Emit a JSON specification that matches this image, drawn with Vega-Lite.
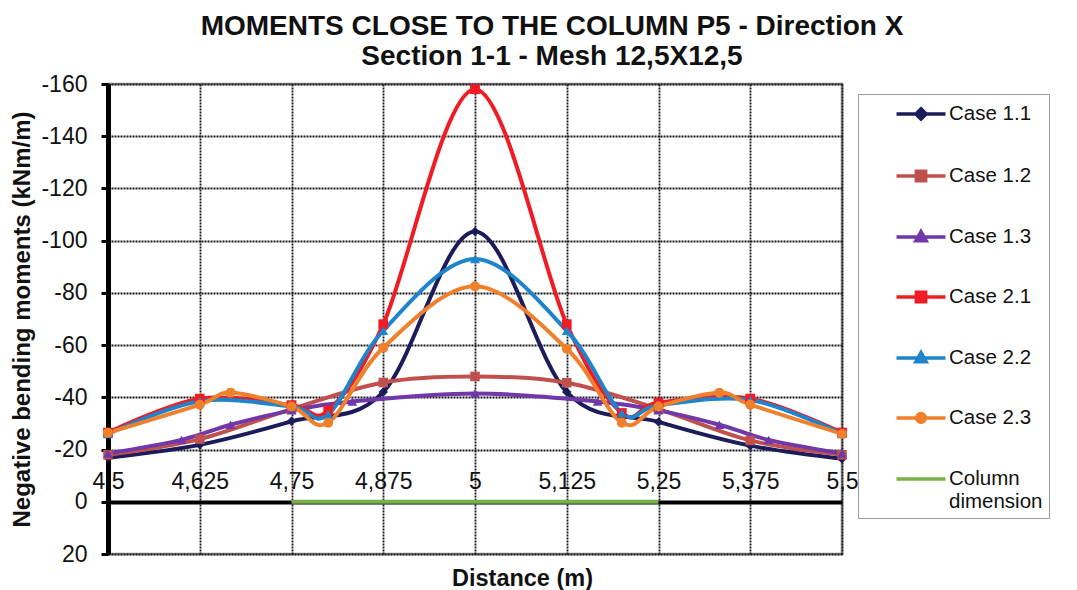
{
  "$schema": "https://vega.github.io/schema/vega-lite/v6.json",
  "width": 734,
  "height": 470,
  "autosize": "none",
  "padding": {"left": 108, "top": 84, "right": 235, "bottom": 36},
  "background": "white",
  "title": {
    "text": ["MOMENTS CLOSE TO THE COLUMN P5 - Direction X", "Section 1-1 - Mesh 12,5X12,5"],
    "font": "Liberation Sans",
    "fontSize": 28,
    "fontWeight": "bold",
    "color": "#111",
    "lineHeight": 30,
    "anchor": "middle",
    "dx": 77,
    "offset": 2
  },
  "config": {
    "font": "Liberation Sans",
    "view": {"stroke": "#8a8a8a", "strokeWidth": 2.5},
    "axis": {
      "labelFont": "Liberation Sans",
      "titleFont": "Liberation Sans",
      "labelColor": "#111",
      "titleColor": "#111",
      "gridColor": "#1a1a1a",
      "gridDash": [2, 1],
      "gridWidth": 1.8,
      "gridOpacity": 1
    }
  },
  "data": {
    "values": [
      {"series": "Case 1.1", "x": 4.5, "y": -16.9},
      {"series": "Case 1.1", "x": 4.625, "y": -21.8},
      {"series": "Case 1.1", "x": 4.75, "y": -30.8},
      {"series": "Case 1.1", "x": 4.875, "y": -42},
      {"series": "Case 1.1", "x": 5, "y": -103.5},
      {"series": "Case 1.1", "x": 5.125, "y": -42},
      {"series": "Case 1.1", "x": 5.25, "y": -30.6},
      {"series": "Case 1.1", "x": 5.375, "y": -21.5},
      {"series": "Case 1.1", "x": 5.5, "y": -16.5},

      {"series": "Case 1.2", "x": 4.5, "y": -18},
      {"series": "Case 1.2", "x": 4.625, "y": -24},
      {"series": "Case 1.2", "x": 4.75, "y": -35.5},
      {"series": "Case 1.2", "x": 4.875, "y": -45.7},
      {"series": "Case 1.2", "x": 5, "y": -48},
      {"series": "Case 1.2", "x": 5.125, "y": -45.6},
      {"series": "Case 1.2", "x": 5.25, "y": -35.5},
      {"series": "Case 1.2", "x": 5.375, "y": -23.5},
      {"series": "Case 1.2", "x": 5.5, "y": -18},

      {"series": "Case 1.3", "x": 4.5, "y": -18.5},
      {"series": "Case 1.3", "x": 4.6, "y": -23.7},
      {"series": "Case 1.3", "x": 4.667, "y": -29.5},
      {"series": "Case 1.3", "x": 4.75, "y": -35},
      {"series": "Case 1.3", "x": 4.833, "y": -38.4},
      {"series": "Case 1.3", "x": 5, "y": -41.5},
      {"series": "Case 1.3", "x": 5.167, "y": -38.4},
      {"series": "Case 1.3", "x": 5.25, "y": -35},
      {"series": "Case 1.3", "x": 5.333, "y": -29.5},
      {"series": "Case 1.3", "x": 5.4, "y": -23.7},
      {"series": "Case 1.3", "x": 5.5, "y": -18.5},

      {"series": "Case 2.1", "x": 4.5, "y": -26.5},
      {"series": "Case 2.1", "x": 4.625, "y": -39.5},
      {"series": "Case 2.1", "x": 4.75, "y": -37},
      {"series": "Case 2.1", "x": 4.8, "y": -35},
      {"series": "Case 2.1", "x": 4.875, "y": -68},
      {"series": "Case 2.1", "x": 5, "y": -158},
      {"series": "Case 2.1", "x": 5.125, "y": -68},
      {"series": "Case 2.1", "x": 5.2, "y": -34},
      {"series": "Case 2.1", "x": 5.25, "y": -38},
      {"series": "Case 2.1", "x": 5.375, "y": -39.5},
      {"series": "Case 2.1", "x": 5.5, "y": -26.5},

      {"series": "Case 2.2", "x": 4.5, "y": -26},
      {"series": "Case 2.2", "x": 4.625, "y": -38.5},
      {"series": "Case 2.2", "x": 4.75, "y": -36.5},
      {"series": "Case 2.2", "x": 4.8, "y": -33.5},
      {"series": "Case 2.2", "x": 4.875, "y": -65.5},
      {"series": "Case 2.2", "x": 5, "y": -93},
      {"series": "Case 2.2", "x": 5.125, "y": -65.5},
      {"series": "Case 2.2", "x": 5.2, "y": -34},
      {"series": "Case 2.2", "x": 5.25, "y": -37},
      {"series": "Case 2.2", "x": 5.375, "y": -39},
      {"series": "Case 2.2", "x": 5.5, "y": -26},

      {"series": "Case 2.3", "x": 4.5, "y": -26.4},
      {"series": "Case 2.3", "x": 4.625, "y": -37.2},
      {"series": "Case 2.3", "x": 4.667, "y": -41.8},
      {"series": "Case 2.3", "x": 4.75, "y": -36.5},
      {"series": "Case 2.3", "x": 4.8, "y": -30.3},
      {"series": "Case 2.3", "x": 4.875, "y": -59},
      {"series": "Case 2.3", "x": 5, "y": -82.5},
      {"series": "Case 2.3", "x": 5.125, "y": -58.6},
      {"series": "Case 2.3", "x": 5.2, "y": -30.3},
      {"series": "Case 2.3", "x": 5.25, "y": -36.5},
      {"series": "Case 2.3", "x": 5.333, "y": -41.8},
      {"series": "Case 2.3", "x": 5.375, "y": -37.2},
      {"series": "Case 2.3", "x": 5.5, "y": -26},

      {"series": "Column dimension", "x": 4.75, "y": 0},
      {"series": "Column dimension", "x": 5.25, "y": 0}
    ]
  },
  "encoding": {
    "x": {
      "field": "x",
      "type": "quantitative",
      "scale": {"domain": [4.5, 5.5], "nice": false, "zero": false},
      "axis": {
        "values": [4.5, 4.625, 4.75, 4.875, 5, 5.125, 5.25, 5.375, 5.5],
        "format": ".4~f",
        "labelExpr": "replace(datum.label, '.', ',')",
        "offset": -52,
        "ticks": false,
        "labelFontSize": 23,
        "labelBaseline": "alphabetic",
        "labelPadding": -14,
        "labelOverlap": false,
        "labelFlush": false,
        "domainColor": "#000",
        "domainWidth": 4,
        "title": "Distance (m)",
        "titleFontSize": 23.5,
        "titleFontWeight": "bold",
        "titleX": 414,
        "titleY": 76,
        "titleBaseline": "middle",
        "titleAlign": "center"
      }
    },
    "y": {
      "field": "y",
      "type": "quantitative",
      "scale": {"domain": [-160, 20], "nice": false, "zero": false, "reverse": true},
      "axis": {
        "values": [-160, -140, -120, -100, -80, -60, -40, -20, 0, 20],
        "labelExpr": "'' + datum.value",
        "labelFontSize": 23,
        "labelPadding": 14,
        "tickColor": "#000",
        "tickWidth": 3,
        "tickSize": 7,
        "domainColor": "#000",
        "domainWidth": 5,
        "title": "Negative bending moments (kNm/m)",
        "titleFontSize": 24,
        "titleFontWeight": "bold",
        "titlePadding": 6
      }
    }
  },
  "layer": [
    {
      "mark": {"type": "line", "interpolate": "cardinal", "strokeWidth": 4},
      "encoding": {
        "color": {
          "field": "series",
          "type": "nominal",
          "scale": {
            "domain": ["Case 1.1", "Case 1.2", "Case 1.3", "Case 2.1", "Case 2.2", "Case 2.3", "Column dimension"],
            "range": ["#1C1C5A", "#C0504D", "#7038A8", "#F01C24", "#1E84CC", "#F0802C", "#79B04A"]
          },
          "legend": {
            "title": null,
            "orient": "none",
            "legendX": 750,
            "legendY": 10,
            "symbolSize": 600,
            "symbolStrokeWidth": 3,
            "labelFontSize": 20.5,
            "labelFont": "Liberation Sans",
            "labelColor": "#111",
            "rowPadding": 35,
            "padding": 6,
            "strokeColor": "#9a9a9a",
            "fillColor": "white",
            "symbolOffset": 43,
            "labelOffset": 14,
            "labelLimit": 300,
            "labelExpr": "datum.label == 'Column dimension' ? ['Column', 'dimension'] : datum.label",
            "encode": {
              "symbols": {
                "update": {
                  "shape": {"signal": "datum.value == 'Case 1.1' ? 'M-2,0L2,0M0,-0.42L0.42,0L0,0.42L-0.42,0Z' : (datum.value == 'Case 1.2' || datum.value == 'Case 2.1') ? 'M-2,0L2,0M-0.38,-0.38H0.38V0.38H-0.38Z' : (datum.value == 'Case 1.3' || datum.value == 'Case 2.2') ? 'M-2,0L2,0M0,-0.45L0.42,0.3H-0.42Z' : datum.value == 'Case 2.3' ? 'M-2,0L2,0M-0.36,0A0.36,0.36 0 1,0 0.36,0A0.36,0.36 0 1,0 -0.36,0Z' : 'M-2,0L2,0'"},
                  "fill": {"scale": "color", "field": "value"},
                  "stroke": {"scale": "color", "field": "value"},
                  "strokeWidth": {"value": 3.5},
                  "opacity": {"value": 1}
                }
              }
            }
          }
        }
      }
    },
    {
      "transform": [{"filter": "datum.series != 'Column dimension'"}],
      "mark": {"type": "point", "filled": true, "opacity": 1},
      "encoding": {
        "color": {"field": "series", "type": "nominal"},
        "shape": {
          "field": "series",
          "type": "nominal",
          "scale": {
            "domain": ["Case 1.1", "Case 1.2", "Case 1.3", "Case 2.1", "Case 2.2", "Case 2.3"],
            "range": ["diamond", "square", "triangle-up", "square", "triangle-up", "circle"]
          },
          "legend": null
        },
        "size": {
          "field": "series",
          "type": "nominal",
          "scale": {
            "domain": ["Case 1.1", "Case 1.2", "Case 1.3", "Case 2.1", "Case 2.2", "Case 2.3"],
            "range": [90, 100, 90, 100, 90, 110]
          },
          "legend": null
        }
      }
    }
  ]
}
